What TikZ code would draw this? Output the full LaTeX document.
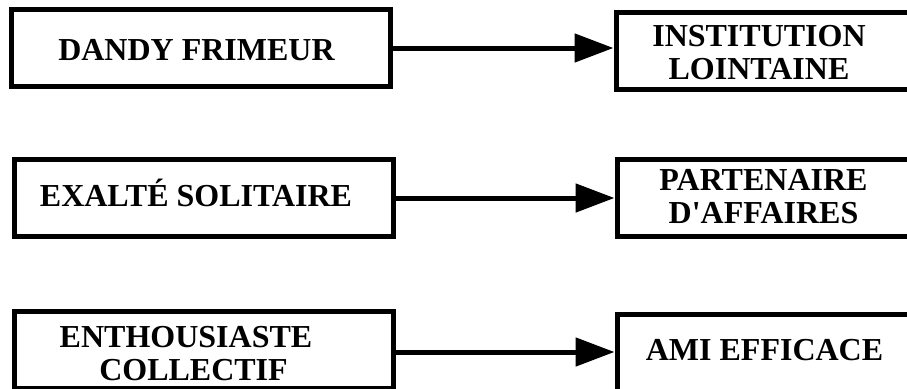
\documentclass[tikz,border=0pt]{standalone}
\usepackage{fontspec}
\setmainfont{Liberation Serif}
\usetikzlibrary{arrows.meta}
\tikzset{
  box/.style={draw=black, line width=5pt, rectangle, inner sep=0pt, fill=white},
  label/.style={font=\fontsize{32}{33}\selectfont\bfseries, align=center, inner sep=0pt},
  link/.style={line width=5pt, -{Triangle[length=39pt,width=28pt]}}
}
\begin{document}
\begin{tikzpicture}[x=1pt, y=-1pt]
\useasboundingbox (0,0) rectangle (907,388);
\clip (0,0) rectangle (907,388);
\fill[white] (0,0) rectangle (907,388);

% left column
\node[box, minimum width=379pt, minimum height=77pt] (dandy) at (200.5,48) {};
\node[box, minimum width=379pt, minimum height=77pt] (exalte) at (204,198) {};
\node[box, minimum width=379pt, minimum height=77pt] (enthou) at (204,350) {};

% right column (runs past the right margin)
\node[box, minimum width=314pt, minimum height=77pt] (instit) at (773,51) {};
\node[box, minimum width=313pt, minimum height=77pt] (parten) at (773.5,198) {};
\node[box, minimum width=313pt, minimum height=77pt] (ami) at (773.5,353) {};

% labels
\node[label, anchor=base] (t1) at (196.5,60) {DANDY FRIMEUR};
\node[label] (t2) at (759,53) {INSTITUTION\\LOINTAINE};
\node[label, anchor=base] (t3) at (196,206) {EXALTÉ SOLITAIRE};
\node[label] (t4) at (763.5,197) {PARTENAIRE\\D\textquotesingle AFFAIRES};
\node[label] (t5) at (186,353.5) {ENTHOUSIASTE\\\hspace*{15pt}COLLECTIF};
\node[label, anchor=base] (t6) at (764.5,360) {AMI EFFICACE};

% connectors
\draw[link] (dandy.east) -- (dandy.east -| instit.west);
\draw[link] (exalte.east) -- (exalte.east -| parten.west);
\draw[link] ([yshift=-2pt]enthou.east) -- ([yshift=-2pt]enthou.east -| ami.west);
\end{tikzpicture}
\end{document}
